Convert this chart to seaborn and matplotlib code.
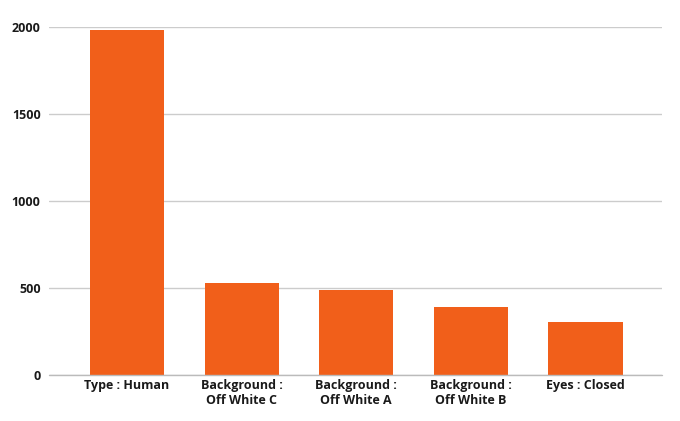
import matplotlib
matplotlib.use("Agg")
import matplotlib.pyplot as plt
import seaborn as sns
import pandas as pd

categories = ["Type : Human", "Background :\nOff White C", "Background :\nOff White A",
              "Background :\nOff White B", "Eyes : Closed"]
counts = [1982, 530, 488, 389, 306]
y_ticks = [0, 500, 1000, 1500, 2000]

df = pd.DataFrame({"category": categories, "count": counts})

sns.set_theme(style="white")
plt.rcParams['font.family'] = ['Open Sans', 'DejaVu Sans']

fig = plt.figure(figsize=(6.8, 4.21), dpi=100)
ax = fig.add_axes([0.072, 0.109, 0.902, 0.827])
sns.barplot(data=df, x="category", y="count", color="#F15F1A", saturation=1,
            width=0.646, ax=ax, zorder=3, linewidth=0)
ax.set_ylim(0, 2000)
ax.set_xlim(-0.68, 4.67)
ax.set_yticks(y_ticks)
ax.set_yticklabels([str(t) for t in y_ticks], fontsize=9, fontweight="bold", color="#1a1a1a")
ax.set_xticklabels(categories, fontsize=9, fontweight="bold", color="#1a1a1a")
ax.yaxis.grid(True, color="#CCCCCC", linewidth=1, zorder=0)
ax.axhline(0, color="#BBBBBB", linewidth=1, zorder=4, clip_on=False)
ax.set_axisbelow(True)
for s in ax.spines.values():
    s.set_visible(False)
ax.tick_params(axis="both", length=0)
ax.tick_params(axis="y", pad=6)
ax.tick_params(axis="x", pad=3)
ax.set_xlabel("")
ax.set_ylabel("")
fig.savefig("out.png", dpi=100)
